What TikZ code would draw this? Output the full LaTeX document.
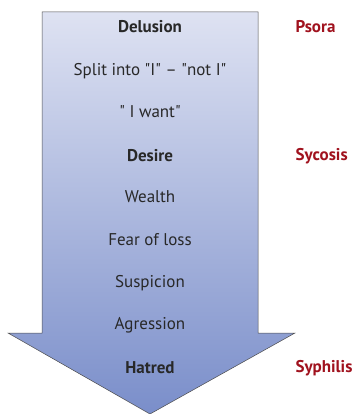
\documentclass[tikz,border=0pt]{standalone}
\usepackage{fontspec}
\setmainfont{PT Sans}
\usepackage{tikz}
\usetikzlibrary{positioning,calc}
\definecolor{cTop}{RGB}{222,226,242}
\definecolor{cBottom}{RGB}{122,142,202}
\definecolor{cMiasm}{RGB}{160,18,30}
\definecolor{cText}{RGB}{40,40,40}

\begin{document}
\begin{tikzpicture}[x=1pt,y=-1pt,
    stage/.style={font=\fontsize{17}{19}\selectfont,text=cText},
    keystage/.style={stage,font=\fontsize{17}{19}\selectfont\bfseries},
    miasm/.style={anchor=west,font=\fontsize{17}{19}\selectfont\bfseries,text=cMiasm}]
  \useasboundingbox (0,0) rectangle (358,414);
  % arrow
  \draw[draw=black!70,line width=0.5pt,top color=cTop,bottom color=cBottom]
    (42,12) -- (258,12) -- (258,333) -- (295,333) -- (150,414)
    -- (8,333) -- (42,333) -- cycle;
  \coordinate (rcol) at (292,0);
  % stages
  \foreach \y/\txt/\sty [count=\i] in {
     27/Delusion/keystage,
     71/{Split into \textquotedbl I\textquotedbl{} -- \textquotedbl not I\textquotedbl}/stage,
     112/{\textquotedbl{} I want\textquotedbl}/stage,
     156/Desire/keystage,
     197/Wealth/stage,
     240/Fear of loss/stage,
     283/Suspicion/stage,
     325/Agression/stage,
     368/Hatred/keystage}
     \node[\sty] (s\i) at (150,\y) {\txt};
  % miasms
  \foreach \i/\name in {1/Psora,4/Sycosis,9/Syphilis}
     \node[miasm] (m\i) at (s\i -| rcol) {\name};
\end{tikzpicture}
\end{document}
